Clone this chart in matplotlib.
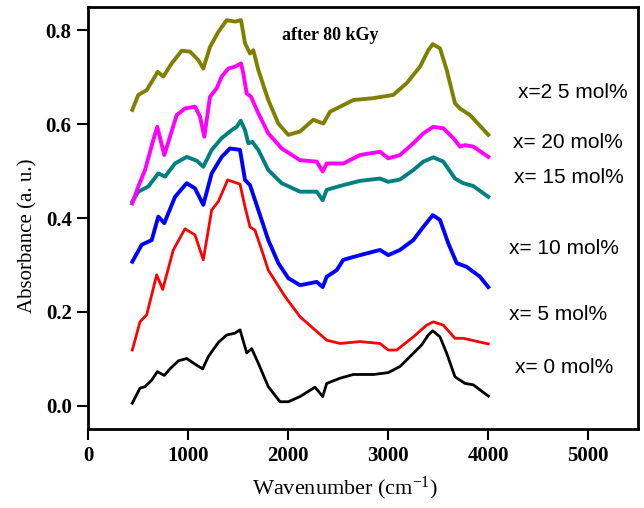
import matplotlib
matplotlib.use("Agg")
import matplotlib.pyplot as plt

plt.rcParams["mathtext.fontset"] = "custom"
plt.rcParams["mathtext.rm"] = "Liberation Serif"
plt.rcParams["mathtext.it"] = "Liberation Serif"

# x = 0 mol% (black)
x0 = [440, 517, 567, 634, 690, 760, 817, 900, 984, 1067, 1144, 1200, 1300, 1384, 1467, 1517, 1584, 1634, 1700, 1800, 1917, 2000, 2117, 2267, 2344, 2384, 2517, 2650, 2850, 3000, 3117, 3217, 3334, 3400, 3444, 3517, 3584, 3667, 3767, 3850, 4000]
y0 = [0.006, 0.038, 0.041, 0.055, 0.073, 0.065, 0.079, 0.096, 0.101, 0.089, 0.079, 0.105, 0.135, 0.151, 0.155, 0.162, 0.113, 0.122, 0.091, 0.041, 0.009, 0.009, 0.020, 0.040, 0.020, 0.048, 0.059, 0.067, 0.067, 0.071, 0.084, 0.105, 0.130, 0.151, 0.160, 0.147, 0.112, 0.062, 0.048, 0.045, 0.021]

# x = 5 mol% (red)
x5 = [440, 517, 584, 684, 744, 850, 967, 1067, 1150, 1234, 1300, 1394, 1517, 1567, 1617, 1667, 1734, 1800, 1967, 2117, 2250, 2384, 2517, 2717, 2917, 3000, 3084, 3250, 3384, 3450, 3550, 3667, 3750, 3834, 4000]
y5 = [0.119, 0.179, 0.194, 0.279, 0.248, 0.332, 0.377, 0.364, 0.311, 0.417, 0.435, 0.481, 0.472, 0.424, 0.381, 0.374, 0.332, 0.289, 0.233, 0.190, 0.165, 0.140, 0.133, 0.137, 0.133, 0.119, 0.119, 0.147, 0.172, 0.179, 0.172, 0.144, 0.144, 0.140, 0.132]

# x = 10 mol% (blue)
x10 = [440, 534, 634, 700, 760, 867, 984, 1067, 1150, 1234, 1334, 1417, 1517, 1567, 1617, 1700, 1800, 1900, 2000, 2117, 2284, 2344, 2384, 2484, 2550, 2717, 2917, 3000, 3117, 3250, 3350, 3444, 3517, 3600, 3684, 3784, 3917, 4000]
y10 = [0.307, 0.343, 0.353, 0.403, 0.389, 0.445, 0.474, 0.463, 0.428, 0.495, 0.530, 0.548, 0.545, 0.481, 0.470, 0.417, 0.353, 0.304, 0.272, 0.257, 0.264, 0.253, 0.275, 0.289, 0.311, 0.321, 0.332, 0.321, 0.332, 0.353, 0.381, 0.406, 0.396, 0.346, 0.304, 0.296, 0.275, 0.253]

# x = 15 mol% (teal)
x15 = [440, 500, 600, 700, 767, 867, 984, 1084, 1150, 1234, 1334, 1434, 1484, 1524, 1567, 1600, 1640, 1700, 1800, 1934, 2117, 2284, 2344, 2384, 2550, 2717, 2917, 3000, 3117, 3250, 3350, 3450, 3550, 3667, 3750, 3850, 4000]
y15 = [0.435, 0.456, 0.467, 0.495, 0.488, 0.516, 0.530, 0.522, 0.509, 0.545, 0.570, 0.587, 0.594, 0.607, 0.587, 0.559, 0.562, 0.545, 0.502, 0.474, 0.456, 0.456, 0.438, 0.460, 0.470, 0.479, 0.484, 0.477, 0.482, 0.502, 0.520, 0.529, 0.520, 0.484, 0.474, 0.468, 0.445]

# x = 20 mol% (magenta)
x20 = [440, 500, 567, 650, 690, 760, 817, 884, 967, 1067, 1117, 1160, 1217, 1284, 1334, 1400, 1467, 1527, 1550, 1584, 1627, 1700, 1800, 1934, 2117, 2284, 2344, 2384, 2550, 2717, 2917, 3000, 3117, 3250, 3350, 3450, 3550, 3650, 3717, 3767, 3850, 4000]
y20 = [0.431, 0.467, 0.502, 0.566, 0.594, 0.534, 0.573, 0.619, 0.633, 0.637, 0.616, 0.573, 0.658, 0.676, 0.701, 0.718, 0.722, 0.729, 0.708, 0.665, 0.658, 0.623, 0.580, 0.548, 0.523, 0.520, 0.499, 0.516, 0.516, 0.534, 0.541, 0.527, 0.534, 0.559, 0.580, 0.594, 0.591, 0.570, 0.552, 0.555, 0.552, 0.530]

# x = 25 mol% (olive)
x25 = [440, 500, 584, 694, 750, 834, 934, 1017, 1100, 1150, 1217, 1300, 1384, 1467, 1527, 1567, 1617, 1650, 1700, 1800, 1900, 2000, 2117, 2250, 2350, 2417, 2650, 2850, 3050, 3184, 3317, 3400, 3444, 3517, 3584, 3667, 3717, 3817, 4000]
y25 = [0.630, 0.662, 0.672, 0.711, 0.701, 0.729, 0.756, 0.754, 0.736, 0.718, 0.764, 0.796, 0.821, 0.818, 0.821, 0.772, 0.750, 0.757, 0.715, 0.651, 0.601, 0.577, 0.584, 0.609, 0.601, 0.626, 0.651, 0.655, 0.662, 0.687, 0.722, 0.757, 0.770, 0.761, 0.715, 0.644, 0.633, 0.619, 0.577]

labels = ["x= 0 mol%", "x= 5 mol%", "x= 10 mol%", "x= 15 mol%", "x= 20 mol%", "x=2 5 mol%"]
label_x = [4267, 4207, 4207, 4257, 4247, 4297]
label_y = [0.081, 0.194, 0.336, 0.487, 0.560, 0.666]

xticks = [0, 1000, 2000, 3000, 4000, 5000]
yticks = [0.0, 0.2, 0.4, 0.6, 0.8]

series = [(x0, y0, "black", 2.0), (x5, y5, "#FF0000", 2.0), (x10, y10, "#0000FF", 2.8),
          (x15, y15, "#008080", 2.8), (x20, y20, "#FF00FF", 2.8), (x25, y25, "#808000", 2.8)]

fig = plt.figure(figsize=(6.44, 5.08), dpi=100)
ax = fig.add_axes([88.3/644, 79/508, (638-88.3)/644, (429-7)/508])

for xs, ys, c, lw in series:
    ax.plot(xs, ys, color=c, lw=lw, solid_joinstyle="round")

for t, lx, ly in zip(labels, label_x, label_y):
    ax.text(lx, ly, t, fontsize=15, family="Liberation Sans", va="center", ha="left")

ax.text(1934, 0.789, "after 80 kGy", fontsize=13, family="Liberation Serif",
        fontweight="semibold", va="center", ha="left")

ax.set_xlim(0, 5497)
ax.set_ylim(-0.049, 0.849)
ax.set_xticks(xticks)
ax.set_yticks(yticks)
ax.set_xticklabels([str(v) for v in xticks])
ax.set_yticklabels(["%.1f" % v for v in yticks])
for lab in ax.get_xticklabels() + ax.get_yticklabels():
    lab.set_family("Liberation Serif")
    lab.set_fontweight("bold")
    lab.set_fontsize(15)
ax.tick_params(direction="out", length=8, width=1.5, pad=4)
for s in ax.spines.values():
    s.set_linewidth(2)

ax.set_xlabel("Wavenumber (cm$^{\\mathregular{-1}}$)", fontsize=16, family="Liberation Serif")
ax.set_ylabel("Absorbance (a. u.)", fontsize=15, family="Liberation Serif")
ax.xaxis.set_label_coords(0.467, -0.108)
ax.yaxis.set_label_coords(-0.092, 0.457)

fig.savefig("out.png", dpi=100)
